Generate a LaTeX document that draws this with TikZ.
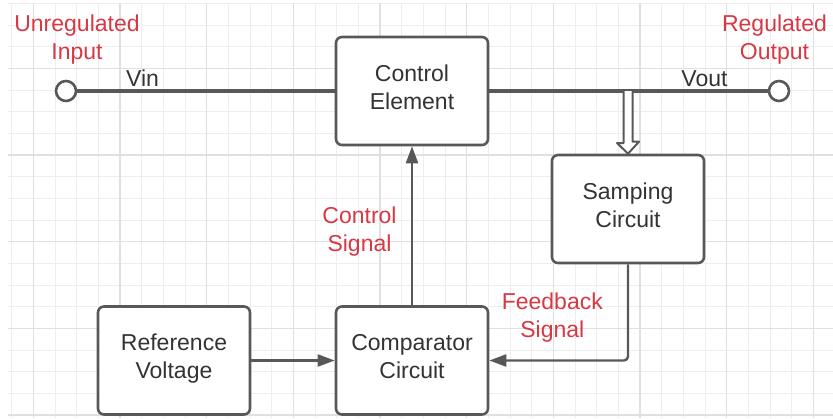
\documentclass[tikz,border=0pt]{standalone}
\usepackage{fontspec}
\setmainfont{Liberation Sans}
\usepackage{tikz}
\usetikzlibrary{arrows.meta,positioning}
\definecolor{lblred}{RGB}{214,56,68}
\definecolor{boxgray}{RGB}{88,88,88}
\definecolor{txtgray}{RGB}{51,51,51}
\definecolor{gridminor}{RGB}{238,238,238}
\definecolor{gridmajor}{RGB}{224,224,224}

\begin{document}
\begin{tikzpicture}[x=1pt,y=-1pt,>={Triangle[length=17pt,width=12pt]},line join=round,
	block/.style={draw=boxgray,line width=2.6pt,rounded corners=6pt,fill=white,minimum width=152pt,minimum height=108pt,align=center,text=txtgray,font=\fontsize{23}{28}\selectfont,execute at end node={\strut}},
	lbl/.style={text=lblred,align=center,font=\fontsize{23}{28}\selectfont},
	volt/.style={text=txtgray,font=\fontsize{23}{28}\selectfont},
	term/.style={circle,draw=boxgray,line width=2.6pt,fill=white,minimum size=20pt,inner sep=0pt},
	wire/.style={draw=boxgray,line width=4pt},
	sig/.style={draw=boxgray,line width=2.4pt,->},
	hollow/.style={draw=boxgray,line width=2pt,fill=white}]
	\useasboundingbox (0,0) rectangle (833,418);
	% grid
	\foreach \i in {0,...,37}
		\draw[gridminor,line width=0.8pt] ({11.67+21.67*\i},3.3) -- ({11.67+21.67*\i},418);
	\foreach \j in {0,...,19}
		\draw[gridminor,line width=0.8pt] (8,{3.3+21.67*\j}) -- (833,{3.3+21.67*\j});
	\foreach \i in {0,...,9}
		\draw[gridmajor,line width=1.1pt] ({33.33+86.67*\i},3.3) -- ({33.33+86.67*\i},418);
	\foreach \j in {0,...,4}
		\draw[gridmajor,line width=1.1pt] (8,{68.3+86.67*\j}) -- (833,{68.3+86.67*\j});

	\node[block]	(ctrl)	at (412,91)		{Control\\Element};
	\node[block]	(samp)	at (628,209)	{Samping\\Circuit};
	\node[block]	(ref)	at (174,360.5)	{Reference\\Voltage};
	\node[block]	(comp)	at (412,360.5)	{Comparator\\Circuit};
	\node[term]		(in)	at (66,91)		{};
	\node[term]		(out)	at (779,91)		{};
	\coordinate		(tap)	at (628,91);

	% labels (anchor=base sits on the last line)
	\node[lbl,anchor=base]	(unreg)	at (77,59.3)	{Unregulated\\Input};
	\node[lbl,anchor=base]	(reg)	at (774.5,59.3)	{Regulated\\Output};
	\node[lbl,anchor=base]	(csig)	at (359.5,251.7)	{Control\\Signal};
	\node[lbl,anchor=base]	(fsig)	at (552.3,337.3)	{Feedback\\Signal};
	\node[volt,anchor=base]	(vin)	at (142.5,86.5)	{Vin};
	\node[volt,anchor=base]	(vout)	at (704.5,86)	{Vout};

	\path[wire] (in) -- (ctrl);
	\path[wire] (ctrl) -- (out);
	\draw[hollow] ([xshift=-4.5pt]tap) -- ++(0,52) -- ++(-6.5,0) -- (samp.north) -- ++(11,-12) -- ++(-6.5,0) -- ([xshift=4.5pt]tap);
	\path[sig] (comp) -- (ctrl);
	\path[sig] (ref) -- (comp);
	\path[sig,rounded corners=4pt] (samp) |- (comp);
\end{tikzpicture}
\end{document}
